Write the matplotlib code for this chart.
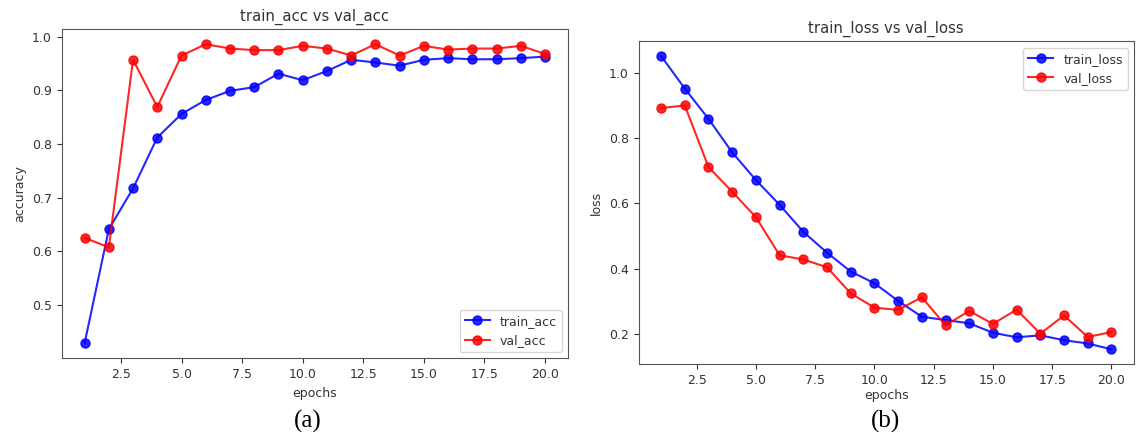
import matplotlib
matplotlib.use('Agg')
import matplotlib.pyplot as plt
import numpy as np

epochs = np.arange(1, 21)

train_acc = [0.428, 0.641, 0.717, 0.812, 0.856, 0.882, 0.899, 0.906, 0.931, 0.919,
             0.936, 0.957, 0.952, 0.946, 0.957, 0.960, 0.958, 0.958, 0.960, 0.963]
val_acc = [0.625, 0.607, 0.957, 0.869, 0.965, 0.986, 0.978, 0.975, 0.975, 0.983,
           0.978, 0.965, 0.986, 0.965, 0.983, 0.976, 0.978, 0.978, 0.983, 0.968]

train_loss = [1.053, 0.953, 0.860, 0.757, 0.672, 0.596, 0.513, 0.449, 0.391, 0.355,
              0.301, 0.252, 0.242, 0.232, 0.203, 0.189, 0.195, 0.180, 0.170, 0.152]
val_loss = [0.893, 0.901, 0.712, 0.636, 0.558, 0.441, 0.428, 0.404, 0.324, 0.280,
            0.273, 0.312, 0.226, 0.270, 0.230, 0.274, 0.200, 0.256, 0.190, 0.205]

plt.rcParams['font.family'] = 'DejaVu Sans'
plt.rcParams['font.size'] = 9
text_col = '#333333'
spine_col = '#555555'

fig = plt.figure(figsize=(11.36, 4.32), dpi=100)
ax1 = fig.add_axes([0.0542, 0.1706, 0.4458, 0.7616])
ax2 = fig.add_axes([0.5621, 0.1574, 0.4361, 0.7470])


def style(ax):
    for s in ax.spines.values():
        s.set_color(spine_col)
    ax.tick_params(colors=text_col, labelsize=9, labelcolor=text_col)


ax1.plot(epochs, train_acc, 'bo-', label='train_acc', ms=6.5, lw=1.5, alpha=0.85)
ax1.plot(epochs, val_acc, 'ro-', label='val_acc', ms=6.5, lw=1.5, alpha=0.85)
ax1.set_title('train_acc vs val_acc', fontsize=10.7, color=text_col)
ax1.set_xlabel('epochs', color=text_col)
ax1.set_ylabel('accuracy', color=text_col)
ax1.legend(loc='lower right', fontsize=9, labelcolor=text_col)
style(ax1)

ax2.plot(epochs, train_loss, 'bo-', label='train_loss', ms=6.5, lw=1.5, alpha=0.85)
ax2.plot(epochs, val_loss, 'ro-', label='val_loss', ms=6.5, lw=1.5, alpha=0.85)
ax2.set_title('train_loss vs val_loss', fontsize=10.7, color=text_col)
ax2.set_xlabel('epochs', color=text_col, labelpad=1.5)
ax2.set_ylabel('loss', color=text_col)
ax2.legend(loc='upper right', fontsize=9, labelcolor=text_col)
style(ax2)

# sub-figure captions
fig.text(308 / 1136, 1 - 421 / 432, '(a)', ha='center', va='center',
         family='Liberation Serif', fontsize=18, color='black')
fig.text(885 / 1136, 1 - 421 / 432, '(b)', ha='center', va='center',
         family='Liberation Serif', fontsize=18, color='black')

fig.savefig('out.png', dpi=100)
plt.close()
